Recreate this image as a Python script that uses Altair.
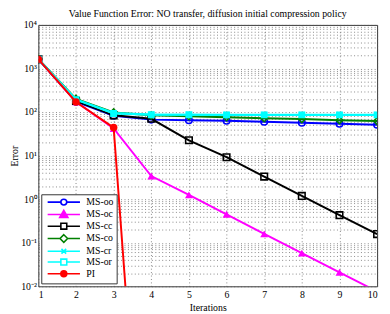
import altair as alt
import pandas as pd

# ---------------- data ----------------
iterations = [1, 2, 3, 4, 5, 6, 7, 8, 9, 10]
series_names = ["MS-oo", "MS-oc", "MS-cc", "MS-co", "MS-cr", "MS-or", "PI"]

ms_oo = [1630, 172, 82, 67, 65, 63, 60, 57, 54, 51]
ms_oc = [1630, 172, 42, 3.4, 1.26, 0.45, 0.16, 0.058, 0.021, 0.0076]
ms_cc = [1630, 180, 84, 70, 22.5, 9.2, 3.3, 1.19, 0.43, 0.158]
ms_co = [1650, 200, 98, 84, 80, 76, 72, 69, 65, 62]
ms_cr = [1630, 195, 95, 88, 87, 87, 87, 87, 87, 87]
ms_or = [1630, 192, 93, 87, 87, 86, 86, 86, 86, 86]
pi_vals = [1630, 170, 44, 1e-10]

series_values = [ms_oo, ms_oc, ms_cc, ms_co, ms_cr, ms_or, pi_vals]

y_decades = [-2, -1, 0, 1, 2, 3, 4]
y_decade_labels = ["10⁻²", "10⁻¹", "10⁰", "10¹", "10²", "10³", "10⁴"]

# ---------------- styles ----------------
colors = ["#0000ff", "#ff00ff", "#000000", "#008000", "#00ffff", "#00ffff", "#ff0000"]
plot_shapes = ["circle", "triangle-up", "square", "diamond",
               "M-1,-1L1,1M-1,1L1,-1", "square", "circle"]
plot_filled = [False, True, False, False, False, True, True]
plot_sizes = [45, 65, 45, 50, 30, 50, 60]

# legend glyphs: a line with the marker in the middle (unit = sqrt(size)/2)
legend_paths = [
    "M-0.5,0L4,0M6,0L10.5,0M6,0A1,1 0 1,1 4,0A1,1 0 1,1 6,0Z",
    "M-0.5,0L10.5,0M5,-1.4L6.4,1L3.6,1Z",
    "M-0.5,0L4,0M6,0L10.5,0M4,-1L6,-1L6,1L4,1Z",
    "M-0.5,0L3.7,0M6.3,0L10.5,0M5,-1.3L6.3,0L5,1.3L3.7,0Z",
    "M-0.5,0L10.5,0M4.2,-0.8L5.8,0.8M4.2,0.8L5.8,-0.8",
    "M-0.5,0L4,0M6,0L10.5,0M4,-1L6,-1L6,1L4,1Z",
    "M-0.5,0L10.5,0M6,0A1,1 0 1,1 4,0A1,1 0 1,1 6,0Z",
]
legend_fills = ["white", "#ff00ff", "white", "white", "white", "white", "#ff0000"]

FONT = "Liberation Serif"

rows = []
for name, vals in zip(series_names, series_values):
    for it, v in zip(iterations, vals):
        rows.append({"series": name, "iter": it, "value": v})
df = pd.DataFrame(rows)

y_ticks = []
for d in y_decades[:-1]:
    for k in range(1, 10):
        y_ticks.append(k * 10.0 ** d)
y_ticks.append(10.0 ** y_decades[-1])

lab_arr = "[" + ",".join("'" + s + "'" for s in y_decade_labels) + "]"
label_expr = (
    "abs(log(datum.value)/LN10 - round(log(datum.value)/LN10)) < 1e-6 ? "
    + lab_arr + "[round(log(datum.value)/LN10) - (" + str(y_decades[0]) + ")] : ''"
)

X = alt.X(
    "iter:Q",
    scale=alt.Scale(domain=[iterations[0], iterations[-1]], nice=False, zero=False),
    axis=alt.Axis(values=iterations, format="d", title="Iterations",
                  grid=True, ticks=False, domain=False,
                  labelPadding=3, titlePadding=4),
)
Y = alt.Y(
    "value:Q",
    scale=alt.Scale(type="log", domain=[10.0 ** y_decades[0], 10.0 ** y_decades[-1]], nice=False),
    axis=alt.Axis(values=y_ticks, labelExpr=label_expr, title="Error",
                  grid=True, ticks=False, domain=False, labelOverlap=False,
                  labelPadding=2, titlePadding=1),
)

layers = []
for name, col, shp, filled, sz in zip(series_names, colors, plot_shapes, plot_filled, plot_sizes):
    d = df[df["series"] == name]
    line = alt.Chart(d).mark_line(color=col, strokeWidth=2, clip=True).encode(x=X, y=Y)
    pts = alt.Chart(d).mark_point(
        shape=shp, color=col, filled=filled, size=sz, strokeWidth=1.6,
        opacity=1, clip=True
    ).encode(x=X, y=Y)
    layers += [line, pts]

leg = alt.Legend(
    title=None, orient="none", legendX=3, legendY=173,
    symbolSize=36, symbolStrokeWidth=1.6, symbolOpacity=1,
    labelFont=FONT, labelFontSize=10, labelColor="black", labelOffset=33,
    padding=3, rowPadding=-2.4, strokeColor="#333", fillColor="white",
    cornerRadius=0,
)
legend_layer = alt.Chart(df).mark_point(opacity=0, size=36, clip=True).encode(
    x=X, y=Y,
    shape=alt.Shape("series:N", scale=alt.Scale(domain=series_names, range=legend_paths), legend=leg),
    stroke=alt.Stroke("series:N", scale=alt.Scale(domain=series_names, range=colors), legend=leg),
    fill=alt.Fill("series:N", scale=alt.Scale(domain=series_names, range=legend_fills), legend=leg),
)
layers.append(legend_layer)

chart = alt.layer(*layers).properties(
    width=346, height=267,
    autosize=alt.AutoSizeParams(type="none"),
    padding={"left": 31, "top": 14, "right": 5, "bottom": 25},
    title=alt.TitleParams(
        "Value Function Error: NO transfer, diffusion initial compression policy",
        font=FONT, fontSize=10, fontWeight="normal", color="black",
        anchor="middle", offset=1,
    ),
).configure_view(
    stroke="#333", strokeWidth=1
).configure_axis(
    labelFont=FONT, labelFontSize=10, labelColor="black",
    titleFont=FONT, titleFontSize=10, titleFontWeight="normal", titleColor="black",
    gridColor="#555", gridDash=[1, 2.5], gridWidth=0.7, gridOpacity=1,
)

chart.save("out.html", embed_options={"renderer": "svg", "actions": False})
